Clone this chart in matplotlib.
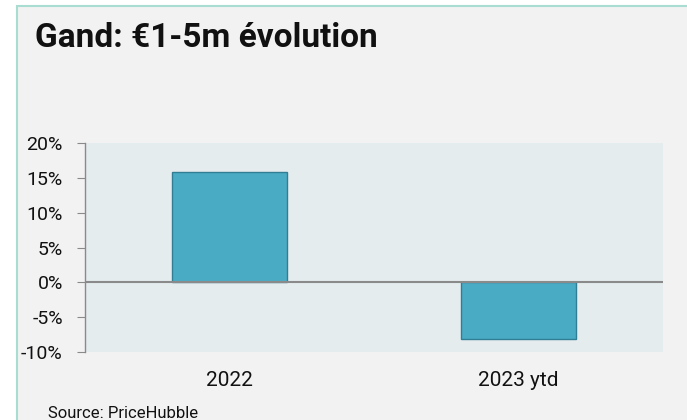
import matplotlib
matplotlib.use("Agg")
import matplotlib.pyplot as plt
from matplotlib.patches import Rectangle
from matplotlib.ticker import FuncFormatter

categories = ["2022", "2023 ytd"]
values = [15.8, -8.1]
yticks = [-10, -5, 0, 5, 10, 15, 20]
title = "Gand: €1-5m évolution"
source = "Source: PriceHubble"

plt.rcParams['font.family'] = ['Roboto', 'DejaVu Sans']

W, H = 687, 420
fig = plt.figure(figsize=(W/100, H/100), dpi=100)
fig.patch.set_facecolor("white")

# panel background with border
panel = Rectangle((17/W, -0.1), 1.0, (1 - 6.5/H) + 0.1, transform=fig.transFigure,
                  facecolor="#f2f2f2", edgecolor="#a9ddd1", linewidth=1.5, zorder=-1)
fig.add_artist(panel)

ax = fig.add_axes([85/W, 1 - 352/H, (663-85)/W, (352-143)/H])
ax.set_zorder(1)
ax.set_facecolor("#e4ecee")
x = range(len(categories))
ax.bar(x, values, width=0.4, color="#4aabc5", edgecolor="#2f7e93", linewidth=1.0, zorder=3)
ax.axhline(0, color="#8a8a8a", linewidth=1.5, zorder=4)
ax.set_xlim(-0.5, 1.5)
ax.set_ylim(-10, 20)
ax.set_yticks(yticks)
ax.yaxis.set_major_formatter(FuncFormatter(lambda v, p: f"{int(v)}%"))
ax.set_xticks(list(x))
ax.set_xticklabels(categories)
for s in ["top", "right", "bottom"]:
    ax.spines[s].set_visible(False)
ax.spines["left"].set_color("#8a8a8a")
ax.spines["left"].set_linewidth(1.0)
ax.tick_params(axis="y", length=6, color="#8a8a8a", labelsize=14, labelcolor="#111111", pad=10)
ax.tick_params(axis="x", length=0, labelsize=15, labelcolor="#111111", pad=14)

fig.text(35/W, 1 - 38/H, title, fontsize=24, fontweight="bold", va="center", ha="left", color="#111111")
fig.text(48/W, 1 - 413/H, source, fontsize=12, va="center", ha="left", color="#111111")

fig.savefig("out.png", dpi=100, facecolor=fig.get_facecolor())
